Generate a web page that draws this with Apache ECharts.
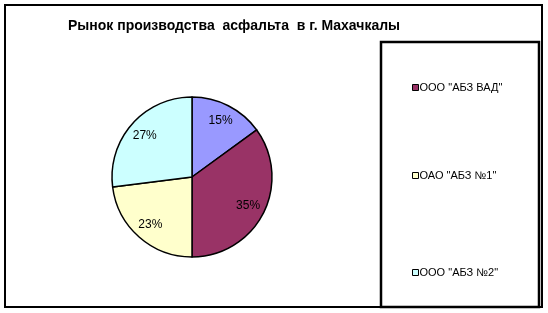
<!DOCTYPE html>
<html>
<head>
<meta charset="utf-8">
<script src="https://cdn.jsdelivr.net/npm/echarts@6/dist/echarts.min.js"></script>
<style>
  html, body { margin: 0; padding: 0; background: #fff; }
  #main { width: 548px; height: 313px; }
</style>
</head>
<body>
<div id="main"></div>
<script>
// доли рынка, по часовой стрелке от 12 часов
const names = ['', 'ООО "АБЗ ВАД"', 'ОАО "АБЗ №1"', 'ООО "АБЗ №2"'];
const shares = [15, 35, 23, 27];
const colors = ['#9999FF', '#993366', '#FFFFCC', '#CCFFFF'];
const legendNames = ['ООО "АБЗ ВАД"', 'ОАО "АБЗ №1"', 'ООО "АБЗ №2"'];
const legendTops = [77, 165, 262];

const pieData = names.map((n, i) => ({ name: n, value: shares[i], itemStyle: { color: colors[i] } }));

const chart = echarts.init(document.getElementById('main'));
chart.setOption({
  animation: false,
  textStyle: { fontFamily: 'Liberation Sans, Arial, sans-serif' },
  title: {
    text: 'Рынок производства  асфальта  в г. Махачкалы',
    left: 63, top: 14,
    textStyle: { fontSize: 14, fontWeight: 'bold', color: '#000', fontFamily: 'Liberation Sans, Arial, sans-serif' }
  },
  legend: legendNames.map((n, i) => ({
    data: [n],
    left: 407, top: legendTops[i],
    itemWidth: 6, itemHeight: 6,
    icon: 'rect',
    itemStyle: { borderColor: '#000', borderWidth: 1 },
    textStyle: { fontSize: 11, color: '#000', padding: [0, 0, 0, -4] }
  })),
  graphic: [
    { type: 'rect', shape: { x: 5, y: 5, width: 537, height: 302 }, style: { fill: null, stroke: '#000', lineWidth: 2 } },
    { type: 'rect', shape: { x: 381, y: 42, width: 158, height: 265 }, style: { fill: null, stroke: '#000', lineWidth: 2.5 } }
  ],
  series: [
    {
      type: 'pie',
      center: [192, 177],
      radius: [0, 80],
      startAngle: 90,
      clockwise: true,
      label: { show: false },
      labelLine: { show: false },
      itemStyle: { borderColor: '#000', borderWidth: 1.5 },
      emphasis: { disabled: true },
      data: pieData
    },
    {
      type: 'pie',
      center: [192, 177],
      radius: [40, 80],
      startAngle: 90,
      clockwise: true,
      silent: true,
      legendHoverLink: false,
      itemStyle: { color: 'transparent', borderWidth: 0 },
      label: {
        show: true, position: 'inside',
        formatter: p => p.value + '%',
        fontSize: 12, color: '#000'
      },
      labelLine: { show: false },
      data: shares.map((v, i) => ({ name: 'lbl' + i, value: v }))
    }
  ]
});
</script>
</body>
</html>
